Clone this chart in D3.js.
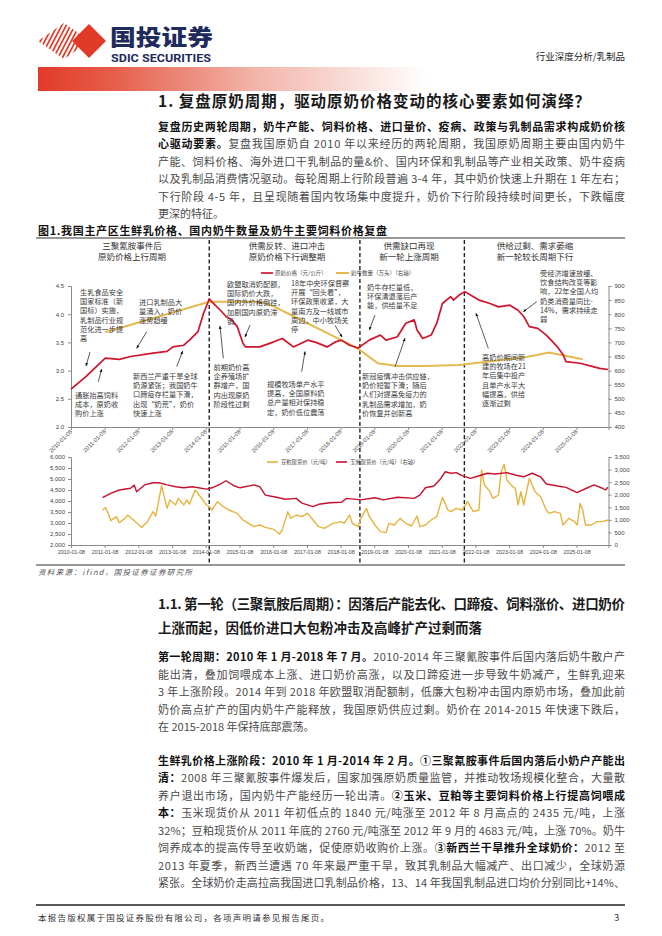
<!DOCTYPE html>
<html><head><meta charset="utf-8">
<script src="https://cdn.jsdelivr.net/npm/d3@7/dist/d3.min.js"></script>
<style>
html,body{margin:0;padding:0;background:#fff;}
svg{display:block;}
text{font-family:"Noto Sans CJK SC","Noto Sans",sans-serif;}
</style></head><body>
<svg id="page" width="662" height="936"></svg>
<script>
// ---------------- DATA ----------------
const milkPrice = [["2010-01-08",2.67],["2010-06",2.89],["2010-11",3.13],["2011-01",3.22],["2011-06",3.20],["2011-10",3.25],["2012-06",3.31],["2012-11",3.34],["2013-01",3.42],["2013-05",3.45],["2013-07",3.54],["2013-10",3.69],["2013-12",4.02],["2014-02",4.27],["2014-03",4.22],["2014-06",4.07],["2014-08",3.96],["2014-10",3.90],["2014-12",3.78],["2015-02",3.48],["2015-03",3.42],["2015-08",3.42],["2016-01",3.51],["2016-04",3.57],["2016-08",3.42],["2017-01",3.54],["2017-04",3.50],["2017-08",3.42],["2017-11",3.51],["2018-01",3.54],["2018-04",3.45],["2018-07",3.40],["2018-11",3.54],["2019-03",3.63],["2019-05",3.54],["2019-09",3.60],["2019-12",3.84],["2020-03",3.90],["2020-04",3.72],["2020-06",3.57],["2020-09",3.63],["2020-11",3.84],["2021-01",4.19],["2021-04",4.31],["2021-05",4.25],["2021-07",4.34],["2021-09",4.40],["2021-11",4.34],["2022-02",4.25],["2022-06",4.19],["2022-09",4.13],["2023-01",4.16],["2023-04",4.07],["2023-06",3.96],["2023-08",3.78],["2023-11",3.75],["2024-02",3.63],["2024-06",3.42],["2024-08",3.28],["2024-09",3.16],["2025-02",3.13],["2025-06",3.08],["2025-09",3.04],["2025-12",3.02]];
const cowHerd = [["2011-01",736],["2014-02",844],["2015-08",844],["2015-12",832],["2016-07",798],["2017-07",738],["2018-07",678],["2019-02",626],["2019-09",616],["2020-07",616],["2021-07",620],["2022-07",634],["2023-07",648],["2024-03",664],["2025-03",640]];
const soyMealPrice = [["2010-12",3591],["2011-01",3697],["2011-02",3439],["2011-03",3106],["2011-05",3288],["2011-06",3015],["2011-08",3212],["2011-09",3364],["2011-11",3136],["2012-01",2909],["2012-02",2803],["2012-04",3061],["2012-06",3515],["2012-07",3318],["2012-09",4682],["2012-10",4197],["2012-11",3667],["2012-12",4045],["2013-02",3818],["2013-03",4121],["2013-05",3818],["2013-06",4045],["2013-07",3864],["2013-09",4500],["2013-11",4167],["2014-01",3818],["2014-02",3742],["2014-03",3591],["2014-05",3970],["2014-07",3742],["2014-09",3591],["2014-12",3439],["2015-02",3136],["2015-03",3061],["2015-06",2833],["2015-08",2909],["2015-10",2803],["2016-01",2712],["2016-03",2500],["2016-04",2682],["2016-06",3515],["2016-07",3212],["2016-09",3364],["2016-11",3288],["2017-01",3439],["2017-03",3136],["2017-05",2833],["2017-07",2758],["2017-10",2985],["2018-01",3061],["2018-02",2985],["2018-04",3364],["2018-05",2985],["2018-07",2833],["2018-08",3212],["2018-10",3667],["2018-11",3288],["2019-01",2909],["2019-03",2606],["2019-05",2561],["2019-06",2985],["2019-08",2909],["2019-10",3212],["2019-12",2985],["2020-02",2864],["2020-04",3318],["2020-05",2833],["2020-07",2909],["2020-09",3136],["2020-11",3288],["2021-01",4167],["2021-03",3591],["2021-04",3515],["2021-06",3667],["2021-08",3591],["2021-10",3970],["2021-12",3515],["2022-02",3591],["2022-03",5409],["2022-04",4727],["2022-06",4424],["2022-07",4121],["2022-09",4273],["2022-10",5333],["2022-11",5667],["2022-12",4955],["2023-02",4652],["2023-03",4576],["2023-04",3818],["2023-05",4424],["2023-06",3818],["2023-08",5030],["2023-10",4424],["2023-12",4197],["2024-02",3591],["2024-03",3439],["2024-05",3515],["2024-07",3439],["2024-08",2909],["2024-10",3212],["2024-12",3061],["2025-01",2909],["2025-02",3894],["2025-03",3591],["2025-04",2909],["2025-06",2909],["2025-08",3061],["2025-10",3061],["2025-12",3136]];
const cornPrice = [["2010-12",1881],["2011-03",2056],["2011-06",2188],["2011-10",2258],["2011-11-25",2380],["2011-12-20",2118],["2012-03",2389],["2012-06",2476],["2012-08",2476],["2012-11",2389],["2013-02",2319],["2013-05",2275],["2013-08",2319],["2014-01",2223],["2014-03",2275],["2014-06",2424],["2014-08",2555],["2014-11",2345],["2015-01",2275],["2015-06",2389],["2015-08",2319],["2015-10",1986],["2016-02",1899],["2016-05",1820],["2016-09",1855],["2016-11",1663],["2017-03",1523],["2017-05",1619],["2017-09",1680],["2018-01",1698],["2018-03",1855],["2018-08",1794],["2019-01",1881],["2019-04",1794],["2019-09",1899],["2020-03",1855],["2020-05",1986],["2020-07",2275],["2020-10",2345],["2020-12",2581],["2021-02",2914],["2021-04",2853],["2021-06",2879],["2021-08",2756],["2021-11",2651],["2022-01",2713],["2022-05",2853],["2022-08",2826],["2022-12",2879],["2023-03",2783],["2023-06",2713],["2023-09",2853],["2023-12",2713],["2024-02",2424],["2024-06",2345],["2024-09",2293],["2025-01",2083],["2025-03",2188],["2025-07",2389],["2025-10",2258],["2025-11",2188],["2025-12",2293]];
const yearTicks = ["2010-01-08","2011-01-08","2012-01-08","2013-01-08","2014-01-08","2015-01-08","2016-01-08","2017-01-08","2018-01-08","2019-01-08","2020-01-08","2021-01-08","2022-01-08","2023-01-08","2024-01-08","2025-01-08"];
const cycleBreaks = ["2014-02-14","2018-08-05","2021-09-10"];
const cycleTitles = [["三聚氰胺事件后","原奶价格上行周期"],["供需反转、进口冲击","原奶价格下行调整期"],["供需缺口再现","新一轮上涨周期"],["供给过剩、需求萎缩","新一轮较长周期下行"]];
const milkTicks = [2.0,2.5,3.0,3.5,4.0,4.5];
const herdTicks = [400,450,500,550,600,650,700,750,800,850,900];
const soyTicks = [2000,2500,3000,3500,4000,4500,5000,5500,6000];
const cornTicks = [0,500,1000,1500,2000,2500,3000,3500];
const annotationTexts = [
 ["生乳食品安全","国家标准（新","国标）实施，","乳制品行业规","范化进一步提","高"],
 ["进口乳制品大","量涌入，奶价","涨势趋缓"],
 ["通胀抬高饲料","成本，原奶收","购价上涨"],
 ["新西兰严重干旱全球","奶源紧张；我国奶牛","口蹄疫存栏量下滑，","出现“奶荒”，奶价","快速上涨"],
 ["欧盟取消奶配额，","国际奶价大跌，","国内外价格倒挂，","加剧国内原奶滞","销"],
 ["前期奶价高","企养殖场扩","群增产，国","内出现原奶","阶段性过剩"],
 ["18年中央环保督察","开展“回头看”，","环保政策收紧，大","量南方及一线城市","周边，中小牧场关","停"],
 ["规模牧场单产水平","提高，全国原料奶","总产量相对保持稳","定，奶价低位震荡"],
 ["奶牛存栏量低，","环保清退落后产","能，供给量不足"],
 ["新冠疫情冲击供应链，","奶价短暂下滑；随后","人们对提高免疫力的","乳制品需求增加，奶","价恢复并创新高"],
 ["高奶价期间新","建的牧场在21","年后集中投产","且单产水平大","幅提高，供给","逐渐过剩"],
 ["受经济增速放缓、","饮食结构改变等影","响，22年全国人均","奶类消费量同比-","14%，需求持续走","弱"]
];
const para1 = [
 "**复盘历史两轮周期，奶牛产能、饲料价格、进口量价、疫病、政策与乳制品需求构成奶价核**",
 "**心驱动要素。**复盘我国原奶自 2010 年以来经历的两轮周期，我国原奶周期主要由国内奶牛",
 "产能、饲料价格、海外进口干乳制品的量&价、国内环保和乳制品等产业相关政策、奶牛疫病",
 "以及乳制品消费情况驱动。每轮周期上行阶段普遍 3-4 年，其中奶价快速上升期在 1 年左右；",
 "下行阶段 4-5 年，且呈现随着国内牧场集中度提升，奶价下行阶段持续时间更长，下跌幅度",
 "更深的特征。"];
const sec11 = ["1.1. 第一轮（三聚氰胺后周期）：因落后产能去化、口蹄疫、饲料涨价、进口奶价","上涨而起，因低价进口大包粉冲击及高峰扩产过剩而落"];
const para2 = [
 "**第一轮周期：2010 年 1 月-2018 年 7 月。**2010-2014 年三聚氰胺事件后国内落后奶牛散户产",
 "能出清，叠加饲喂成本上涨、进口奶价高涨，以及口蹄疫进一步导致牛奶减产，生鲜乳迎来",
 "3 年上涨阶段。2014 年到 2018 年欧盟取消配额制，低廉大包粉冲击国内原奶市场，叠加此前",
 "奶价高点扩产的国内奶牛产能释放，我国原奶供应过剩。奶价在 2014-2015 年快速下跌后，",
 "在 2015-2018 年保持底部震荡。"];
const para3 = [
 "**生鲜乳价格上涨阶段：2010 年 1 月-2014 年 2 月。①三聚氰胺事件后国内落后小奶户产能出**",
 "**清：**2008 年三聚氰胺事件爆发后，国家加强原奶质量监管，并推动牧场规模化整合，大量散",
 "养户退出市场，国内奶牛产能经历一轮出清。**②玉米、豆粕等主要饲料价格上行提高饲喂成**",
 "**本：**玉米现货价从 2011 年初低点的 1840 元/吨涨至 2012 年 8 月高点的 2435 元/吨，上涨",
 "32%；豆粕现货价从 2011 年底的 2760 元/吨涨至 2012 年 9 月的 4683 元/吨，上涨 70%。奶牛",
 "饲养成本的提高传导至收奶端，促使原奶收购价上涨。**③新西兰干旱推升全球奶价：**2012 至",
 "2013 年夏季，新西兰遭遇 70 年来最严重干旱，致其乳制品大幅减产、出口减少，全球奶源",
 "紧张。全球奶价走高拉高我国进口乳制品价格，13、14 年我国乳制品进口均价分别同比+14%、"];

// ---------------- LAYOUT ----------------
const svg = d3.select("#page");
svg.append("rect").attr("width",662).attr("height",936).attr("fill","#fff");
const defs = svg.append("defs");
const grad = defs.append("linearGradient").attr("id","band").attr("x1","0").attr("x2","1");
[[0,"#e23a28"],[0.2,"#e6604c"],[0.55,"#f2b3a8"],[1,"#ffffff"]].forEach(s=>grad.append("stop").attr("offset",s[0]).attr("stop-color",s[1]));
defs.append("marker").attr("id","ah").attr("viewBox","0 0 10 10").attr("refX",9).attr("refY",5)
  .attr("markerWidth",5).attr("markerHeight",5).attr("orient","auto")
  .append("path").attr("d","M0,1 L10,5 L0,9 z").attr("fill","#111");
defs.append("clipPath").attr("id","logoclip").append("polygon").attr("points","38,41 64,23 90,41 64,59");

const parseD = s => new Date((s.length===7 ? s+"-15" : s)+"T00:00:00Z");

// header
const hdr = svg.append("g");
const stripes = hdr.append("g").attr("clip-path","url(#logoclip)");
d3.range(0,16).forEach(i=>{
  const bx = 26 + i*4.4;
  stripes.append("line").attr("x1",bx).attr("y1",60).attr("x2",bx+20).attr("y2",22)
    .attr("stroke","#e23a28").attr("stroke-width",1.7);
});
hdr.append("polygon").attr("points","89,24 106,41 89,58 72,41").attr("fill","#e23a28");
hdr.append("text").attr("x",110).attr("y",45).attr("font-size",22).attr("font-weight",900)
  .attr("fill","#1e2b5c").attr("textLength",103).attr("lengthAdjust","spacingAndGlyphs").text("国投证券");
hdr.append("text").attr("x",111).attr("y",62).attr("font-size",10).attr("font-weight",700)
  .attr("fill","#1e2b5c").attr("textLength",100).attr("lengthAdjust","spacingAndGlyphs")
  .style("font-family","'Liberation Sans Narrow','Roboto',sans-serif").text("SDIC SECURITIES");
hdr.append("text").attr("x",625).attr("y",60).attr("text-anchor","end").attr("font-size",9.5)
  .attr("fill","#222").text("行业深度分析/乳制品");
hdr.append("rect").attr("x",38).attr("y",67).attr("width",390).attr("height",24).attr("fill","url(#band)");

// text helpers
function parseSegs(s){ return s.split("**").map((t,i)=>({t,b:i%2===1})).filter(p=>p.t.length); }
function textLine(g,x,cy,str,size,width,opt){
  opt = opt||{};
  const t = g.append("text").attr("x",x).attr("y",cy+size*0.36).attr("font-size",size)
    .attr("fill",opt.fill||"#4a4a4a");
  if (opt.weight) t.attr("font-weight",opt.weight);
  parseSegs(str).forEach(s=>{
    const sp = t.append("tspan").text(s.t);
    if (s.b) sp.attr("font-weight",700).attr("fill","#111");
  });
  if (width){
    const w = t.node().getComputedTextLength();
    const n = [...str.replace(/\*\*/g,"")].length;
    t.style("letter-spacing",((width-w)/(n-1))+"px");
  }
  return t;
}
const body = svg.append("g");
textLine(body,158,101,"1. 复盘原奶周期，驱动原奶价格变动的核心要素如何演绎？",15.5,432,{weight:700,fill:"#1a1a1a"});
para1.forEach((s,i)=>textLine(body,158,127+i*17.4,s,11,i<para1.length-1?467:null));
sec11.forEach((s,i)=>textLine(body,158,604+i*24,s,13.5,i===0?467:null,{weight:700,fill:"#1a1a1a"}));
para2.forEach((s,i)=>textLine(body,158,657+i*17.6,s,11,i<para2.length-1?467:null));
para3.forEach((s,i)=>textLine(body,158,761+i*17.5,s,11,467));

// footer
svg.append("line").attr("x1",36).attr("x2",625).attr("y1",905).attr("y2",905).attr("stroke","#222").attr("stroke-width",1.3);
textLine(svg,38,918,"本报告版权属于国投证券股份有限公司，各项声明请参见报告尾页。",8.5,291,{fill:"#333"});
svg.append("text").attr("x",614).attr("y",921).attr("font-size",9.5).attr("fill","#333").text("3");

// figure title
const fig = svg.append("g");
textLine(fig,38,231,"图1.我国主产区生鲜乳价格、国内奶牛数量及奶牛主要饲料价格复盘",11,349,{weight:700,fill:"#111"});
fig.append("line").attr("x1",36).attr("x2",625).attr("y1",238).attr("y2",238).attr("stroke","#333").attr("stroke-width",1.2);
fig.append("line").attr("x1",36).attr("x2",625).attr("y1",565).attr("y2",565).attr("stroke","#333").attr("stroke-width",1.2);
textLine(fig,38,572,"资料来源：ifind，国投证券证券研究所",7.5,154,{fill:"#555"}).style("font-style","italic");

// scales
const x = d3.scaleUtc().domain([parseD("2010-01-08"),parseD("2025-12-20")]).range([71,608.5]);
const yMilk = d3.scaleLinear().domain([2.0,4.5]).range([427,286]);
const yHerd = d3.scaleLinear().domain([400,900]).range([427,286]);
const ySoy = d3.scaleLinear().domain([2000,6000]).range([545,457]);
const yCorn = d3.scaleLinear().domain([0,3500]).range([545,457]);

// dashed cycle lines
cycleBreaks.forEach(d=>{
  fig.append("line").attr("x1",x(parseD(d))).attr("x2",x(parseD(d))).attr("y1",240).attr("y2",564)
    .attr("stroke","#222").attr("stroke-width",1.4).attr("stroke-dasharray","4,2.5");
});
const centers = [132,287,409,535];
cycleTitles.forEach((c,i)=>c.forEach((s,j)=>{
  fig.append("text").attr("x",centers[i]).attr("y",246+j*11+3).attr("text-anchor","middle")
    .attr("font-size",8.5).attr("fill","#333").text(s);
}));

function styleAxis(g){
  g.select(".domain").attr("stroke","#8a8a8a");
  g.selectAll(".tick line").attr("stroke","#8a8a8a");
  g.selectAll(".tick text").attr("font-size",6).attr("fill","#444").style("font-family","'Liberation Sans',Arial,sans-serif");
}
// top chart axes
const axL = fig.append("g").attr("transform","translate(71,0)")
  .call(d3.axisLeft(yMilk).tickValues(milkTicks).tickFormat(d3.format(".1f")).tickSize(3).tickPadding(4));
styleAxis(axL);
const axR = fig.append("g").attr("transform","translate(608.5,0)")
  .call(d3.axisRight(yHerd).tickValues(herdTicks).tickSize(3).tickPadding(3));
styleAxis(axR);
const axB = fig.append("g").attr("transform","translate(0,427)")
  .call(d3.axisBottom(x).tickValues(yearTicks.map(parseD)).tickSize(3).tickFormat(""));
styleAxis(axB);
yearTicks.forEach(t=>{
  const px = x(parseD(t));
  fig.append("text").attr("transform",`translate(${px+1.5},432) rotate(-45)`).attr("text-anchor","end")
    .attr("font-size",5.8).attr("fill","#555").style("font-family","'Liberation Sans',Arial,sans-serif").text(t);
});

// top chart lines
const lineMilk = d3.line().x(d=>x(parseD(d[0]))).y(d=>yMilk(d[1]));
const lineHerd = d3.line().x(d=>x(parseD(d[0]))).y(d=>yHerd(d[1]));
fig.append("path").attr("d",lineHerd(cowHerd)).attr("fill","none").attr("stroke","#e6b94e").attr("stroke-width",2);
fig.append("path").attr("d",lineMilk(milkPrice)).attr("fill","none").attr("stroke","#d0142c").attr("stroke-width",1.7).attr("stroke-linejoin","round");

// top legend
fig.append("line").attr("x1",261).attr("x2",273).attr("y1",273).attr("y2",273).attr("stroke","#d0142c").attr("stroke-width",1.7);
fig.append("text").attr("x",275).attr("y",275).attr("font-size",5.5).attr("fill","#444").text("原奶价格（元/公斤）");
fig.append("line").attr("x1",336).attr("x2",349).attr("y1",273).attr("y2",273).attr("stroke","#e6b94e").attr("stroke-width",2);
fig.append("text").attr("x",351).attr("y",275).attr("font-size",5.5).attr("fill","#444").text("奶牛数量（万头）（右轴）");

// annotations
const annLayout = [[80,292],[139,302],[75,395],[133,376],[227,284],[213.5,367],[291,283],[267,384],[367,287],[362,376],[482,357],[540,273]];
annotationTexts.forEach((lines,i)=>{
  const [ax,ay] = annLayout[i];
  lines.forEach((s,j)=>fig.append("text").attr("x",ax).attr("y",ay+j*9.3+2.6).attr("font-size",7.2).attr("fill","#3a3a3a").text(s));
});
const arrows = [[90,352,86,366],[146.7,331.7,136.7,348.3],[98.3,381.7,101.7,369],[176.7,366.7,182.7,351],[250,325,245,337],[223.3,358.3,220,326],[335,325.3,342,337],[301.7,371.7,305,351.5],[375,315,369.3,330],[395,366.7,405,338.3],[488.3,348.3,476,313.3],[536.7,301.7,523.3,311.7]];
arrows.forEach(a=>fig.append("line").attr("x1",a[0]).attr("y1",a[1]).attr("x2",a[2]).attr("y2",a[3])
  .attr("stroke","#111").attr("stroke-width",0.7).attr("marker-end","url(#ah)"));

// bottom chart axes
const bL = fig.append("g").attr("transform","translate(71,0)")
  .call(d3.axisLeft(ySoy).tickValues(soyTicks).tickSize(3).tickPadding(3));
styleAxis(bL);
const bR = fig.append("g").attr("transform","translate(608.5,0)")
  .call(d3.axisRight(yCorn).tickValues(cornTicks).tickSize(3).tickPadding(3));
styleAxis(bR);
const bB = fig.append("g").attr("transform","translate(0,545)")
  .call(d3.axisBottom(x).tickValues(yearTicks.map(parseD)).tickSize(3).tickPadding(2).tickFormat(d3.utcFormat("%Y-%m-%d")));
styleAxis(bB);
bB.selectAll(".tick text").attr("font-size",5.3);

const lineSoy = d3.line().x(d=>x(parseD(d[0]))).y(d=>ySoy(d[1]));
const lineCorn = d3.line().x(d=>x(parseD(d[0]))).y(d=>yCorn(d[1]));
fig.append("path").attr("d",lineSoy(soyMealPrice)).attr("fill","none").attr("stroke","#e6b43e").attr("stroke-width",1.4).attr("stroke-linejoin","round");
fig.append("path").attr("d",lineCorn(cornPrice)).attr("fill","none").attr("stroke","#c8102e").attr("stroke-width",1.4).attr("stroke-linejoin","round");

// bottom legend
fig.append("line").attr("x1",267).attr("x2",278).attr("y1",462).attr("y2",462).attr("stroke","#e6b43e").attr("stroke-width",1.6);
fig.append("text").attr("x",281).attr("y",464).attr("font-size",5.3).attr("fill","#444").text("豆粕现货价（元/吨）");
fig.append("line").attr("x1",336).attr("x2",347).attr("y1",462).attr("y2",462).attr("stroke","#c8102e").attr("stroke-width",1.6);
fig.append("text").attr("x",350).attr("y",464).attr("font-size",5.3).attr("fill","#444").text("玉米现货价（元/吨）（右轴）");
</script>
</body></html>
